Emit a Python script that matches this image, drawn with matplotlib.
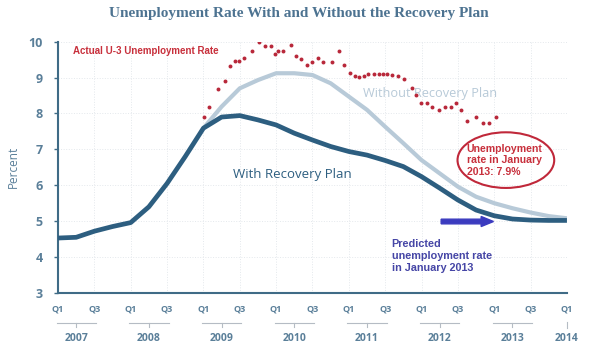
import matplotlib.pyplot as plt
import matplotlib.transforms as mtransforms
from matplotlib.patches import Ellipse, FancyArrow
import numpy as np

# quarterly projections, 2007Q1 .. 2014Q1
quarters = np.arange(2007, 2014.01, 0.25)
with_plan = [4.53, 4.55, 4.72, 4.85, 4.96, 5.40, 6.05, 6.80, 7.59, 7.90, 7.94,
             7.82, 7.68, 7.45, 7.26, 7.08, 6.94, 6.84, 6.69, 6.52, 6.24, 5.92,
             5.59, 5.31, 5.15, 5.06, 5.03, 5.02, 5.02]
# without plan starts at 2009Q1
without_x = quarters[8:]
without_plan = [7.59, 8.19, 8.70, 8.93, 9.12, 9.12, 9.07, 8.84, 8.47, 8.10, 7.63,
                7.17, 6.70, 6.33, 5.96, 5.68, 5.50, 5.36, 5.24, 5.14, 5.08]

# actual U-3 rate (dots)
actual_t = [2009.01, 2009.07, 2009.20, 2009.30, 2009.37, 2009.43, 2009.49, 2009.56,
            2009.67, 2009.77, 2009.85, 2009.93, 2009.98, 2010.03, 2010.10, 2010.21,
            2010.27, 2010.34, 2010.43, 2010.50, 2010.58, 2010.65, 2010.77, 2010.87,
            2010.94, 2011.01, 2011.08, 2011.14, 2011.21, 2011.27, 2011.34, 2011.41,
            2011.47, 2011.53, 2011.60, 2011.67, 2011.76, 2011.87, 2011.93, 2011.99,
            2012.07, 2012.15, 2012.24, 2012.32, 2012.40, 2012.48, 2012.54, 2012.62,
            2012.75, 2012.84, 2012.93, 2013.02]
actual_v = [7.89, 8.19, 8.68, 8.89, 9.32, 9.46, 9.47, 9.55, 9.74, 10.0, 9.88, 9.88,
            9.65, 9.75, 9.75, 9.91, 9.60, 9.52, 9.35, 9.43, 9.55, 9.42, 9.44, 9.74,
            9.35, 9.12, 9.05, 9.01, 9.03, 9.09, 9.09, 9.09, 9.10, 9.09, 9.07, 9.03,
            8.95, 8.72, 8.52, 8.30, 8.28, 8.17, 8.10, 8.17, 8.17, 8.28, 8.10, 7.80,
            7.89, 7.73, 7.73, 7.89]

years = [2007, 2008, 2009, 2010, 2011, 2012, 2013]
yticks = [3, 4, 5, 6, 7, 8, 9, 10]

spine_col = '#3f6b86'
tick_col = '#5a7f99'
dark = '#2d5e80'
light = '#b8cad8'
red = '#b8283a'

fig = plt.figure(figsize=(6.03, 3.5), dpi=100)
ax = fig.add_axes([0.0962, 0.163, 0.844, 0.718])

ax.plot(without_x, without_plan, color=light, lw=3.0, solid_capstyle='butt', zorder=3)
ax.plot(quarters, with_plan, color=dark, lw=3.4, solid_capstyle='butt', zorder=4)
ax.scatter(actual_t, actual_v, s=8, color=red, zorder=5, linewidths=0)

ax.set_xlim(2007, 2014)
ax.set_ylim(3, 10)
ax.set_yticks(yticks)
ax.set_yticklabels([str(v) for v in yticks], color=tick_col, fontsize=9,
                   fontweight='bold', family='Open Sans')
half = np.arange(2007, 2014.01, 0.5)
ax.set_xticks(half)
ax.set_xticklabels(['Q1' if i % 2 == 0 else 'Q3' for i in range(len(half))],
                   color=tick_col, fontsize=6.5, fontweight='bold', family='Open Sans')
ax.tick_params(axis='x', length=0, pad=8)
ax.tick_params(axis='y', length=3, width=1, color=spine_col, pad=8)

ax.grid(True, color='#e4e8ec', lw=0.7, ls=':')
for s in ['top', 'right']:
    ax.spines[s].set_visible(False)
for s in ['left', 'bottom']:
    ax.spines[s].set_color(spine_col)
    ax.spines[s].set_linewidth(1.5)

ax.set_ylabel('Percent', color=tick_col, fontsize=8.5, family='Open Sans', labelpad=6)

# year brackets under the quarter labels
tr = mtransforms.blended_transform_factory(ax.transData, ax.transAxes)
for y in years:
    ax.plot([y - 0.02, y + 0.52], [-0.12, -0.12], color='#b5bcc4', lw=0.8,
            transform=tr, clip_on=False)
    ax.plot([y + 0.25, y + 0.25], [-0.12, -0.135], color='#b5bcc4', lw=0.8,
            transform=tr, clip_on=False)
    ax.text(y + 0.25, -0.18, str(y), transform=tr, ha='center', va='center',
            color=tick_col, fontsize=7.5, fontweight='bold', family='Open Sans')
ax.plot([2014, 2014], [-0.115, -0.14], color='#b5bcc4', lw=0.8,
        transform=tr, clip_on=False)
ax.text(2014, -0.18, '2014', transform=tr, ha='center', va='center',
        color=tick_col, fontsize=7.5, fontweight='bold', family='Open Sans')

fig.text(0.496, 0.962, 'Unemployment Rate With and Without the Recovery Plan',
         ha='center', va='center', fontsize=11, fontweight='bold',
         family='Liberation Serif', color='#4d7391')

ax.text(2007.2, 9.75, 'Actual U-3 Unemployment Rate', color='#c8303c', fontsize=7,
        fontweight='bold', family='Liberation Sans', va='center')
ax.text(2011.2, 8.55, 'Without Recovery Plan', color=light, fontsize=9.2,
        family='Open Sans', va='center')
ax.text(2009.41, 6.3, 'With Recovery Plan', color=dark, fontsize=9.5,
        family='Open Sans', va='center')

ax.add_patch(Ellipse((2013.16, 6.70), 1.33, 1.55, fill=False, ec='#c0283a',
                     lw=1.5, zorder=6))
ax.text(2012.62, 6.70, 'Unemployment\nrate in January\n2013: 7.9%', color='#c8303c',
        fontsize=7.6, fontweight='bold', family='Liberation Sans', va='center',
        linespacing=1.2, zorder=7)

ax.add_patch(FancyArrow(2012.27, 4.99, 0.55, 0, width=0.13, head_width=0.28,
                        head_length=0.17, color='#3b3bbf', zorder=7,
                        length_includes_head=False))
ax.text(2011.59, 4.02, 'Predicted\nunemployment rate\nin January 2013', color='#4646a6',
        fontsize=7.8, fontweight='bold', family='Liberation Sans', va='center',
        linespacing=1.25)

fig.savefig('out.png', dpi=100)
